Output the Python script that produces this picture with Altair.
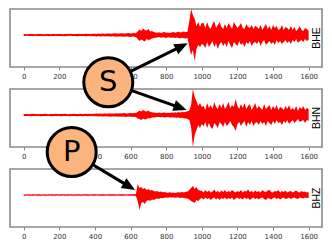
import math
import altair as alt
import pandas as pd

# ---- data (px-like amplitude units, 10 s bins) ----
time_s = list(range(0, 1601, 10))
channels = ["BHE", "BHN", "BHZ"]
tick_values = [0, 200, 400, 600, 800, 1000, 1200, 1400, 1600]

bhe_hi = [0.9,1.0,0.8,1.1,0.9,1.0,0.8,0.9,1.1,0.9, 1.0,0.8,1.0,0.9,1.1,0.8,1.0,0.9,1.0,1.1,
          0.9,1.0,0.8,1.1,0.9,1.0,1.2,0.9,1.0,1.1, 0.9,1.2,1.0,0.9,1.1,1.2,1.0,1.1,0.9,1.2,
          1.3,1.1,1.4,1.2,1.5,1.3,1.2,1.6,1.4,1.3, 1.5,1.7,1.4,1.6,1.5,1.8,1.6,1.4,1.7,1.9,
          1.6,1.8,2.0,1.7,
          3.5,5.5,4.0,6.5,5.0,4.5,6.0,3.5,4.0,3.0,2.5,
          2.2,2.8,2.0,2.5,3.0,2.3,2.6,2.0,2.4,2.9,2.2,2.7,3.2,2.5,3.0,3.4,2.8,3.6,
          14,26,20,16,9,13,8,12,
          12,7,13,8,6,11,14,7,10,13, 8,6,11,7,12,9,6,13,10,7,
          9,12,7,6,11,8,7,10,6,9, 8,6,10,5,8,11,6,9,5,10,
          7,9,5,6,10,5,8,7,5,9, 5,8,4,6,9,5,4,7,6,4]
bhe_lo = [-0.9,-1.1,-0.8,-1.0,-1.0,-0.9,-1.1,-0.8,-1.0,-0.9, -1.1,-0.9,-1.0,-0.8,-1.0,-1.1,-0.9,-1.0,-0.8,-1.0,
          -1.1,-0.9,-1.0,-1.2,-0.9,-1.0,-0.8,-1.1,-1.0,-0.9, -1.2,-1.0,-1.1,-0.9,-1.0,-1.2,-1.1,-0.9,-1.2,-1.0,
          -1.2,-1.4,-1.1,-1.5,-1.3,-1.2,-1.6,-1.3,-1.4,-1.6, -1.3,-1.5,-1.7,-1.4,-1.6,-1.5,-1.8,-1.6,-1.5,-1.7,
          -1.9,-1.6,-1.8,-2.0,
          -4.0,-6.0,-4.5,-5.5,-6.5,-4.0,-5.0,-4.5,-3.5,-3.0,-2.8,
          -2.5,-2.0,-2.7,-2.3,-2.6,-3.0,-2.2,-2.5,-2.8,-2.4,-3.0,-2.6,-2.9,-3.3,-2.7,-3.2,-3.5,-3.0,
          -12,-20,-15,-26,-14,-10,-12,-9,
          -10,-13,-7,-12,-9,-6,-12,-8,-14,-9, -7,-11,-8,-12,-6,-10,-13,-7,-9,-11,
          -6,-10,-8,-12,-7,-9,-6,-11,-8,-7, -9,-6,-11,-7,-5,-10,-8,-6,-9,-7,
          -10,-5,-8,-6,-9,-7,-5,-8,-6,-9, -5,-7,-4,-8,-6,-5,-7,-4,-6,-5]

bhn_hi = [1.0,0.9,1.1,0.8,1.0,1.2,0.9,1.0,0.8,1.1, 1.0,0.9,1.2,1.0,0.8,1.1,0.9,1.0,1.2,0.9,
          1.1,1.0,0.9,1.2,1.0,0.8,1.1,1.0,1.2,0.9, 1.1,1.0,1.2,0.9,1.1,1.3,1.0,1.2,1.1,1.3,
          1.2,1.4,1.3,1.5,1.2,1.6,1.4,1.3,1.7,1.5, 1.4,1.6,1.8,1.5,1.7,1.6,1.9,1.7,1.5,1.8,
          2.0,1.7,1.9,2.1,
          3.0,4.5,3.5,5.0,4.0,3.5,4.5,3.0,2.8,2.5,2.2,
          2.0,2.4,1.9,2.2,2.6,2.1,2.3,1.9,2.5,2.2,2.7,2.3,2.9,2.6,3.1,2.8,3.3,3.8,4.5,
          10,26,18,14,9,12,8,
          9,5,12,7,10,6,13,8,6,11, 7,12,6,9,13,7,10,8,16,9,
          6,11,7,12,6,9,11,5,8,12, 6,9,7,5,11,6,8,10,5,9,
          6,10,5,8,7,5,9,6,10,5, 7,5,9,4,8,6,9,5,7,6]
bhn_lo = [-1.0,-1.1,-0.9,-1.0,-1.2,-0.9,-1.0,-1.1,-0.9,-1.0, -1.2,-1.0,-0.9,-1.1,-1.0,-0.9,-1.2,-1.0,-1.1,-0.9,
          -1.0,-1.2,-1.0,-0.9,-1.1,-1.0,-1.2,-0.9,-1.0,-1.1, -1.2,-1.0,-1.1,-1.3,-1.0,-1.1,-1.2,-1.0,-1.3,-1.1,
          -1.3,-1.2,-1.5,-1.3,-1.4,-1.6,-1.3,-1.5,-1.4,-1.7, -1.5,-1.6,-1.4,-1.8,-1.6,-1.7,-1.5,-1.9,-1.7,-1.6,
          -1.8,-2.0,-1.7,-1.9,
          -3.5,-4.0,-5.0,-3.5,-4.5,-4.0,-3.0,-3.5,-2.5,-2.6,-2.2,
          -2.1,-1.9,-2.3,-2.0,-2.4,-2.2,-2.0,-2.5,-2.3,-2.6,-2.4,-2.8,-2.5,-3.0,-2.7,-3.2,-3.6,-4.0,-5.0,
          -12,-32,-20,-15,-10,-13,-9,
          -11,-7,-13,-8,-12,-14,-8,-10,-13,-7, -9,-12,-7,-11,-9,-6,-10,-12,-16,-9,
          -7,-11,-8,-6,-12,-7,-10,-6,-11,-8, -7,-10,-6,-9,-7,-11,-6,-8,-10,-6,
          -9,-5,-8,-7,-10,-6,-8,-5,-9,-7, -5,-8,-6,-4,-7,-6,-5,-8,-5,-6]

bhz_hi = [0.7,0.6,0.8,0.7,0.6,0.7,0.8,0.6,0.7,0.7, 0.6,0.8,0.7,0.6,0.7,0.8,0.7,0.6,0.7,0.8,
          0.6,0.7,0.7,0.8,0.6,0.7,0.8,0.7,0.6,0.7, 0.8,0.7,0.6,0.7,0.8,0.7,0.7,0.6,0.8,0.7,
          0.7,0.8,0.6,0.7,0.8,0.7,0.6,0.8,0.7,0.7, 0.8,0.7,0.6,0.8,0.7,0.8,0.7,0.6,0.8,0.7,
          0.8,0.7,0.9,0.8,
          11,7,8,6,7,5,6,4.5,5,4,3.5,4,3,3.5,2.8,3,
          2.5,2.2,2.8,2.3,2.6,2.1,2.5,2.8,2.4,3.0,2.6,3.2,3.5,
          5,7,9,6,8,5,4.5,
          4,2.5,5,3,4.5,2.5,3.5,5.5,3,4, 2.5,4.5,3,5,2.5,4,3,5,3.5,2.5,
          4,3,5,2.5,4,3.5,5.5,3,4,2.5, 4.5,3,4,2.5,5,3.5,3,4.5,5,3,
          2.5,4,3.5,5,2.5,4,3,4.5,2.5,3.5, 4,2.5,3.5,4.5,3,2.5,4,3,3.5,2.5,
          3]
bhz_lo = [-0.7,-0.8,-0.6,-0.7,-0.7,-0.8,-0.6,-0.7,-0.8,-0.7, -0.7,-0.6,-0.8,-0.7,-0.8,-0.6,-0.7,-0.8,-0.7,-0.6,
          -0.7,-0.8,-0.6,-0.7,-0.8,-0.7,-0.6,-0.7,-0.8,-0.7, -0.6,-0.7,-0.8,-0.7,-0.6,-0.8,-0.7,-0.7,-0.6,-0.8,
          -0.7,-0.6,-0.8,-0.7,-0.7,-0.8,-0.7,-0.6,-0.8,-0.7, -0.7,-0.8,-0.7,-0.6,-0.8,-0.7,-0.7,-0.8,-0.6,-0.7,
          -0.8,-0.7,-0.8,-0.9,
          -6,-15,-8,-7,-9,-6,-5,-6,-4.5,-5,-4,-3.5,-4,-3,-3.2,-2.8,
          -2.4,-2.7,-2.2,-2.6,-2.3,-2.8,-2.4,-2.6,-2.9,-2.5,-3.0,-3.3,-3.6,
          -4.5,-6,-7,-8,-5,-6,-4,
          -3,-4.5,-2.5,-4,-3,-5,-3.5,-2.5,-4.5,-3, -5,-3,-4,-2.5,-4.5,-3,-4,-2.5,-5,-3.5,
          -2.5,-4,-3,-4.5,-2.5,-4,-3,-5,-3.5,-2.5, -4,-3,-4.5,-3,-2.5,-4,-5,-3,-3.5,-4.5,
          -3,-2.5,-4,-3,-4.5,-3,-2.5,-4,-3.5,-2.5, -4,-3,-2.5,-3.5,-4,-2.5,-3,-3.5,-2.5,-3,
          -3]

# annotation anchors, in the bottom panel's data units
phase_labels = ["S", "P"]
phase_x = [475, 269.5]
phase_y = [112.7, 43]
arrow_from = [0, 0, 1]          # index of the circle each arrow leaves
arrow_tip_x = [921, 915, 625]
arrow_tip_y = [151.7, 85, 5]

# ---- layout ----
X_DOM = [-77, 1675]
Y_DOM = [-32, 26]
W, H = 312, 58
SX = W / (X_DOM[1] - X_DOM[0])
SY = H / (Y_DOM[1] - Y_DOM[0])

xscale = alt.Scale(domain=X_DOM, nice=False, zero=False)
xaxis = alt.Axis(values=tick_values, title=None, format="d", labelOverlap=False)
yscale = alt.Scale(domain=Y_DOM, nice=False, zero=False)


def X(field):
    return alt.X(field, type="quantitative", scale=xscale, axis=xaxis)


def Y(field):
    return alt.Y(field, type="quantitative", scale=yscale, axis=None)


def panel(hi, lo, label, extra=None):
    df = pd.DataFrame({"t": time_s, "hi": hi, "lo": lo})
    area = alt.Chart(df).mark_area(color="#ff0000", opacity=1, interpolate="linear").encode(
        x=X("t"),
        y=Y("hi"),
        y2="lo:Q",
    )
    lab = alt.Chart(pd.DataFrame({"c": [label]})).mark_text(
        angle=270, fontSize=10.5, font="Liberation Sans", color="black",
        align="center", baseline="middle"
    ).encode(text="c:N", x=alt.value(307), y=alt.value(29))
    layers = [area, lab] + (extra or [])
    return alt.layer(*layers).properties(width=W, height=H)


# arrows
ax0, ay0, ax1, ay1, aang = [], [], [], [], []
for k, src in enumerate(arrow_from):
    tx, ty = arrow_tip_x[k], arrow_tip_y[k]
    sx, sy = phase_x[src], phase_y[src]
    dx = (tx - sx) * SX
    dy = -(ty - sy) * SY
    L = math.hypot(dx, dy)
    ux, uy = dx / L, dy / L
    ax0.append(sx)
    ay0.append(sy)
    ax1.append(tx - 10 * ux / SX)
    ay1.append(ty + 10 * uy / SY)
    aang.append(math.degrees(math.atan2(dx, -dy)))

arrows_df = pd.DataFrame({"t": ax0, "y": ay0, "t2": ax1, "y2": ay1,
                          "tipx": arrow_tip_x, "tipy": arrow_tip_y, "ang": aang})
circ_df = pd.DataFrame({"t": phase_x, "y": phase_y, "lab": phase_labels})

shafts = alt.Chart(arrows_df).mark_rule(color="black", strokeWidth=3).encode(
    x=X("t"), x2="t2:Q", y=Y("y"), y2="y2:Q",
)
heads = alt.Chart(arrows_df).mark_point(
    shape="M0,0L0.8,1.9L-0.8,1.9Z", filled=True, color="black", opacity=1,
    size=196, strokeWidth=0
).encode(
    x=X("tipx"), y=Y("tipy"),
    angle=alt.Angle("ang:Q", scale=None),
)
circles = alt.Chart(circ_df).mark_point(
    shape="circle", filled=True, fill="#fcb47f", stroke="black", strokeWidth=3,
    size=2401, opacity=1
).encode(x=X("t"), y=Y("y"))
letters = alt.Chart(circ_df).mark_text(
    fontSize=29, font="DejaVu Sans", color="black", align="center", baseline="middle"
).encode(x=X("t"), y=Y("y"), text="lab:N")

p1 = panel(bhe_hi, bhe_lo, channels[0])
p2 = panel(bhn_hi, bhn_lo, channels[1])
p3 = panel(bhz_hi, bhz_lo, channels[2], extra=[shafts, heads, circles, letters])

chart = alt.vconcat(p1, p2, p3, spacing=22, bounds="flush").properties(
    padding={"left": 1, "top": 0, "right": 0, "bottom": 0}
).configure_view(
    stroke="#8a8a8a", strokeWidth=1.6
).configure_axis(
    labelFont="DejaVu Sans", labelFontSize=7, labelColor="#333333",
    tickColor="#888888", tickSize=3, tickWidth=1, domain=False, grid=False,
    labelPadding=2, labelOverlap=False
)

chart.save("out.html", embed_options={"renderer": "svg", "actions": False})
